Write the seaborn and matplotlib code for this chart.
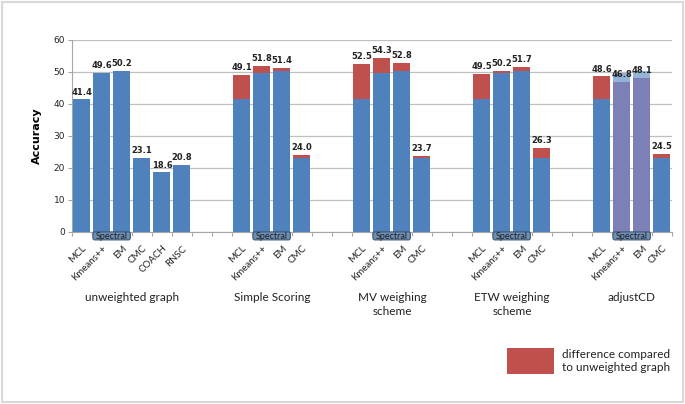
import matplotlib
matplotlib.use("Agg")
import matplotlib.pyplot as plt
from matplotlib.patches import Rectangle, FancyBboxPatch
import matplotlib.transforms as mtransforms
import pandas as pd
import seaborn as sns

# Data
groups = ['unweighted graph', 'Simple Scoring', 'MV weighing\nscheme',
          'ETW weighing\nscheme', 'adjustCD']
methods_first = ['MCL', 'Kmeans++', 'EM', 'CMC', 'COACH', 'RNSC']
methods = ['MCL', 'Kmeans++', 'EM', 'CMC']
unweighted = [41.4, 49.6, 50.2, 23.1, 18.6, 20.8]
simple_scoring = [49.1, 51.8, 51.4, 24.0]
mv_scheme = [52.5, 54.3, 52.8, 23.7]
etw_scheme = [49.5, 50.2, 51.7, 26.3]
adjust_cd = [48.6, 46.8, 48.1, 24.5]

group_start = [0, 8, 14, 20, 26]
n_slots = 30

BLUE = '#4F81BD'
RED = '#C0504D'
PURPLE = '#7C80B6'
LIGHT = '#95B3D7'

# build bar table: a top layer and a bottom layer
rows = []
labels = []
for i, v in enumerate(unweighted):
    rows.append(dict(pos=i, layer='bottom', kind='base', value=v))
    labels.append((i, methods_first[i], v))
for g, vals in zip(group_start[1:], [simple_scoring, mv_scheme, etw_scheme, adjust_cd]):
    for j, v in enumerate(vals):
        base = unweighted[j]
        pos = g + j
        if v >= base:
            rows.append(dict(pos=pos, layer='top', kind='diff', value=v))
            rows.append(dict(pos=pos, layer='bottom', kind='base', value=base))
        else:
            rows.append(dict(pos=pos, layer='top', kind='loss', value=base))
            rows.append(dict(pos=pos, layer='bottom', kind='adjusted', value=v))
        labels.append((pos, methods[j], v))
df = pd.DataFrame(rows)

palette = {'base': BLUE, 'diff': RED, 'loss': LIGHT, 'adjusted': PURPLE}

fig = plt.figure(figsize=(6.85, 4.04), dpi=100)
ax = fig.add_axes([0.105, 0.426, 0.876, 0.475])

for layer in ['top', 'bottom']:
    sub = df[df['layer'] == layer]
    sns.barplot(data=sub, x='pos', y='value', hue='kind', palette=palette,
                dodge=False, native_scale=True, width=0.85, legend=False,
                saturation=1, ax=ax, zorder=3, linewidth=0)

ax.set_xlim(-0.5, n_slots - 0.5)
ax.set_ylim(0, 60)
ax.set_yticks(range(0, 61, 10))
ax.yaxis.grid(True, color='#BFBFBF', linewidth=0.9, zorder=0)
ax.set_axisbelow(True)
for s in ['top', 'right']:
    ax.spines[s].set_visible(False)
ax.spines['left'].set_color('#A6A6A6')
ax.spines['bottom'].set_color('#A6A6A6')
ax.tick_params(axis='y', labelsize=6.5, colors='#A6A6A6', labelcolor='#222222',
               length=3, width=0.8, pad=2)

# x tick marks at slot edges, labels at slot centres
ax.set_xticks([p - 0.5 for p in range(n_slots + 1)], minor=True)
ax.tick_params(axis='x', which='minor', length=3, color='#A6A6A6', width=0.8)
ax.set_xticks([p for p, *_ in labels])
ax.set_xticklabels([m for _, m, *_ in labels], rotation=45, ha='right',
                   rotation_mode='anchor', fontsize=7, family='Lato', color='#222222')
ax.tick_params(axis='x', which='major', length=0, pad=8.5)
ax.set_xlabel('')
ax.set_ylabel('Accuracy', fontsize=8, fontweight='bold', labelpad=8)

# value labels
for pos, _, val in labels:
    ax.text(pos, val + 0.9, f'{val:.1f}', ha='center', va='bottom',
            fontsize=6, fontweight='bold', color='#222222', zorder=5)

# "Spectral" tags under Kmeans++ / EM (drawn in pixel units)
px_h = 8
for g in group_start:
    x0, y0 = ax.transData.transform((g + 0.55, 0))
    x1, _ = ax.transData.transform((g + 2.42, 0))
    box = FancyBboxPatch((x0, y0 - px_h), x1 - x0, px_h,
                         boxstyle='round,pad=0,rounding_size=2',
                         transform=None, clip_on=False, facecolor='#6E8FB5',
                         edgecolor='#3F5673', linewidth=0.8, zorder=6)
    fig.patches.append(box)
    fig.text((x0 + x1) / 2 / fig.bbox.width, (y0 - px_h / 2 - 0.3) / fig.bbox.height,
             'Spectral', ha='center', va='center', fontsize=6.5, family='Lato',
             color='#1F1F1F', zorder=7)

# group names
trans = mtransforms.blended_transform_factory(ax.transData, ax.transAxes)
group_centre = [2.5, 9.5, 15.5, 21.5, 27.5]
for c, name in zip(group_centre, groups):
    ax.text(c, -0.315, name, transform=trans, ha='center', va='top',
            fontsize=8.5, family='Lato', color='#222222', linespacing=1.3)

# legend box
fig.patches.append(Rectangle((507 / 685, 1 - 374 / 404), 47 / 685, 26 / 404,
                             transform=fig.transFigure, facecolor=RED, edgecolor='none'))
fig.text(562 / 685, 1 - 361 / 404, 'difference compared\nto unweighted graph',
         ha='left', va='center', fontsize=8.5, family='Lato', color='#222222',
         linespacing=1.25)

# outer frame
fig.patches.append(Rectangle((0.003, 0.006), 0.994, 0.99, transform=fig.transFigure,
                             facecolor='none', edgecolor='#D9D9D9', linewidth=1.5))

fig.savefig('out.png', dpi=100)
